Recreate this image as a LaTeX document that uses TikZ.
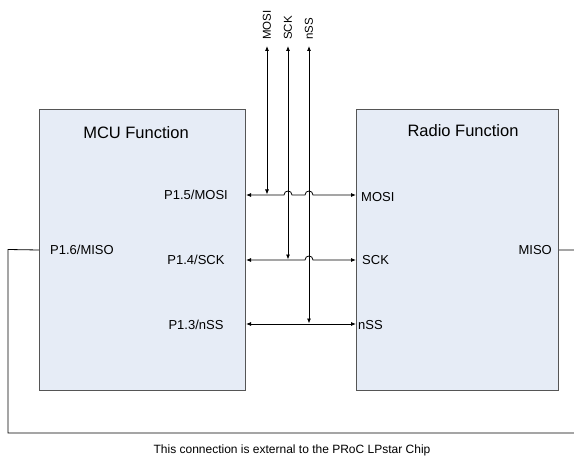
\documentclass[tikz,border=0pt]{standalone}
\usepackage{fontspec}
\setmainfont{Liberation Sans}
\usetikzlibrary{arrows.meta}

\definecolor{boxfill}{RGB}{230,236,246}
\definecolor{boxline}{RGB}{85,85,85}

\tikzset{
  funcbox/.style={draw=boxline,fill=boxfill,line width=1pt,anchor=north west},
  wire/.style={line width=0.8pt},
  bus/.style={wire,{Latex[length=5pt,width=4pt]}-{Latex[length=5pt,width=4pt]}},
  pinlbl/.style={inner sep=0pt,font=\fontsize{13}{15}\selectfont},
  toplbl/.style={inner sep=0pt,rotate=90,anchor=west,font=\fontsize{11.5}{13}\selectfont},
  titlelbl/.style={inner sep=0pt,font=\fontsize{16.5}{18}\selectfont}
}

\begin{document}
\begin{tikzpicture}[x=1pt,y=-1pt]
  \useasboundingbox (0,0) rectangle (574,460);

  % the two function blocks
  \node[funcbox,minimum width=206pt,minimum height=281pt] (mcu) at (39,109) {};
  \node[funcbox,minimum width=202pt,minimum height=281pt] (radio) at (356,109) {};

  \node[titlelbl] (mcutitle) at (136,133) {MCU Function};
  \node[titlelbl] (radiotitle) at (463,131) {Radio Function};

  % pin names
  \node[pinlbl] (p15) at (196,195) {P1.5/MOSI};
  \node[pinlbl] (p14) at (196,260) {P1.4/SCK};
  \node[pinlbl] (p13) at (196,325) {P1.3/nSS};
  \node[pinlbl,anchor=west] (p16) at (50,250) {P1.6/MISO};

  \node[pinlbl,anchor=west] (rmosi) at (361,197) {MOSI};
  \node[pinlbl,anchor=west] (rsck) at (362,260) {SCK};
  \node[pinlbl,anchor=west] (rnss) at (358,325) {nSS};
  \node[pinlbl,anchor=east] (rmiso) at (552,250) {MISO};

  % external signals
  \node[toplbl] (tmosi) at (267,40) {MOSI};
  \node[toplbl] (tsck) at (288,40) {SCK};
  \node[toplbl] (tnss) at (309,40) {nSS};

  \coordinate (mosiL) at (mcu.east |- 0,195);
  \coordinate (mosiR) at (radio.west |- 0,195);
  \coordinate (sckL) at (mcu.east |- 0,260);
  \coordinate (sckR) at (radio.west |- 0,260);
  \coordinate (nssL) at (mcu.east |- 0,324);
  \coordinate (nssR) at (radio.west |- 0,324);

  % buses between the blocks (with hops)
  \draw[bus] (mosiL) -- (284,195) .. controls (284,189.7) and (292,189.7) .. (292,195)
    -- (305,195) .. controls (305,189.7) and (313,189.7) .. (313,195) -- (mosiR);
  \draw[bus] (sckL) -- (305,260) .. controls (305,254.7) and (313,254.7) .. (313,260) -- (sckR);
  \draw[bus] (nssL) -- (nssR);

  % vertical taps
  \draw[bus] (tmosi.west) ++(0,6) -- (267,194.5);
  \draw[bus] (tsck.west) ++(0,6) -- (288,259.5);
  \draw[bus] (tnss.west) ++(0,6) -- (309,323.5);

  % MISO loop outside the chip
  \draw[wire] (mcu.west) -- (8,249.5) |- (577,433) |- (radio.east);

  \node[inner sep=0pt,font=\fontsize{12}{14}\selectfont] (note) at (292,450)
    {This connection is external to the PRoC LPstar Chip};
\end{tikzpicture}
\end{document}
